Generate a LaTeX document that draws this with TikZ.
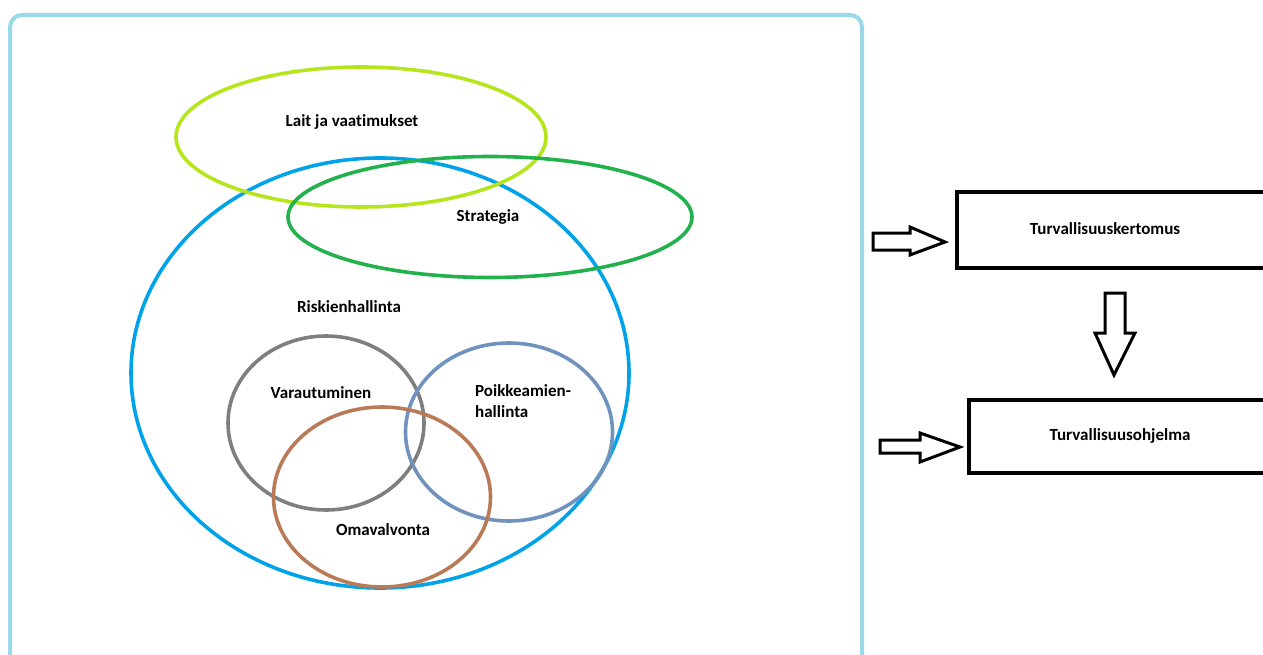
\documentclass[tikz,border=0pt]{standalone}
\usepackage{fontspec}
\setmainfont{Carlito}[Ligatures=NoCommon]
\usetikzlibrary{shapes.geometric}
\definecolor{frameblue}{RGB}{153,217,234}
\definecolor{bigblue}{RGB}{0,162,232}
\definecolor{lime}{RGB}{181,230,29}
\definecolor{stratgreen}{RGB}{34,177,76}
\definecolor{greyring}{RGB}{127,127,127}
\definecolor{brownring}{RGB}{185,122,87}
\definecolor{steelring}{RGB}{112,146,190}
\tikzset{
  ring/.style={ellipse, draw=#1, line width=3.6pt, inner sep=0pt},
  lbl/.style={font=\bfseries\fontsize{17}{21}\selectfont, inner sep=0pt},
  docbox/.style={draw=black, line width=3.8pt, anchor=north west},
  blockarrow/.style={draw=black, line width=3pt, fill=white, line join=miter}
}
\begin{document}
\begin{tikzpicture}[x=1pt,y=-1pt]
\useasboundingbox (0,0) rectangle (1263,655);
% outer frame, open at the bottom edge
\draw[frameblue, line width=4pt, rounded corners=12pt]
  (10,680) -- (10,15) -- (862,15) -- (862,680);

% overlapping areas
\node[ring=bigblue, minimum width=498pt, minimum height=430pt] (riski) at (380,373) {};
\node[ring=lime, minimum width=370pt, minimum height=140pt] (lait) at (361,137) {};
\node[ring=stratgreen, minimum width=404pt, minimum height=121pt] (strat) at (490,217) {};
\node[ring=greyring, minimum width=196pt, minimum height=174pt] (varau) at (326,423) {};
\node[ring=steelring, minimum width=207pt, minimum height=178pt] (poikk) at (509,432) {};
\node[ring=brownring, minimum width=217pt, minimum height=180pt] (omav) at (382,497) {};

% area labels
\node[lbl] (laitT) at (352,122) {Lait ja vaatimukset};
\node[lbl] (stratT) at (488,217) {Strategia};
\node[lbl] (riskiT) at (349,307) {Riskienhallinta};
\node[lbl] (varauT) at (321,393) {Varautuminen};
\node[lbl, align=left, anchor=west] (poikkT) at (475,401) {Poikkeamien-\\hallinta};
\node[lbl] (omavT) at (383,530) {Omavalvonta};

% documents
\draw[docbox] (957,192) rectangle (1275,268);
\node[lbl] (kert) at (1105,229) {Turvallisuuskertomus};
\draw[docbox] (969,400) rectangle (1275,473);
\node[lbl] (ohj) at (1120,436) {Turvallisuusohjelma};

% block arrows
\draw[blockarrow] (873,233) -- (910,233) -- (910,227) -- (945,242)
  -- (910,255) -- (910,250) -- (873,250) -- cycle;
\draw[blockarrow] (1105,293) -- (1125,293) -- (1125,333) -- (1135,333)
  -- (1114,375) -- (1095,333) -- (1105,333) -- cycle;
\draw[blockarrow] (880,440) -- (920,440) -- (920,433) -- (960,447)
  -- (920,462) -- (920,453) -- (880,453) -- cycle;
\end{tikzpicture}
\end{document}
